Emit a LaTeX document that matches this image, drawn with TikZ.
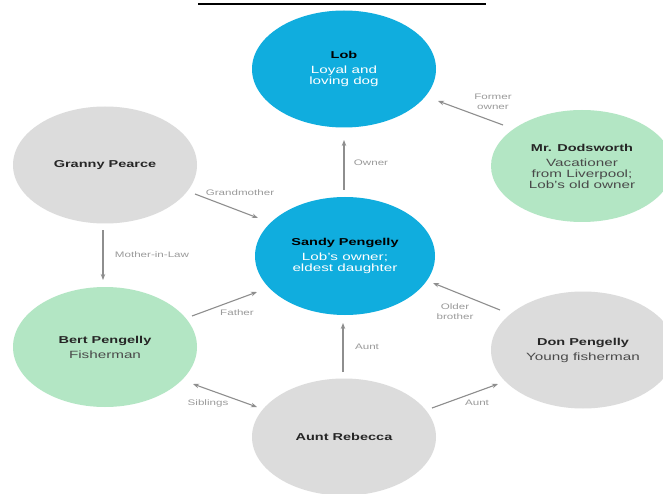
\documentclass[tikz,border=0pt]{standalone}
\usepackage{fontspec}
\setmainfont{Liberation Sans}[FakeStretch=1.45]
\usetikzlibrary{shapes.geometric,arrows.meta}
\definecolor{cblue}{HTML}{10ADDE}
\definecolor{cgreen}{HTML}{B3E6C4}
\definecolor{cgray}{HTML}{DCDCDC}
\definecolor{carrow}{HTML}{8E8E8E}
\definecolor{clabel}{HTML}{9A9A9A}
\definecolor{cname}{HTML}{262626}
\definecolor{cdesc}{HTML}{4A4A4A}
\newcommand{\nm}[1]{{\bfseries\fontsize{10}{11}\selectfont #1}}
\tikzset{
  bub/.style={ellipse, draw=none, minimum width=184pt, minimum height=117pt, inner sep=0pt, align=center,
    font=\fontsize{10.5}{11}\selectfont},
  lbl/.style={text=clabel, align=center, font=\fontsize{8}{10}\selectfont, inner sep=0pt},
  arr/.style={draw=carrow, line width=1.1pt, -{Stealth[length=6pt,width=4.5pt]}},
  darr/.style={draw=carrow, line width=1.1pt, {Stealth[length=6pt,width=4.5pt]}-{Stealth[length=6pt,width=4.5pt]}}
}
\begin{document}
\begin{tikzpicture}[x=1pt,y=-1pt]
\clip (0,0) rectangle (663,494);
\fill[white] (0,0) rectangle (663,494);
\draw[line width=2.6pt, black] (198,4) -- (486,4);

\node[bub, fill=cblue] (lob) at (344,69) {\textcolor{black}{\nm{Lob}}\\[4pt]\textcolor{white}{Loyal and}\\\textcolor{white}{loving dog}};
\node[bub, fill=cgreen, minimum width=182pt, minimum height=112pt] (dods) at (582,166) {\textcolor{cname}{\nm{Mr. Dodsworth}}\\[4pt]\textcolor{cdesc}{Vacationer}\\\textcolor{cdesc}{from Liverpool;}\\\textcolor{cdesc}{Lob's old owner}};
\node[bub, fill=cgray] (granny) at (105,165) {\textcolor{cname}{\nm{Granny Pearce}}};
\node[bub, fill=cblue, minimum width=180pt, minimum height=118pt] (sandy) at (345,256) {\textcolor{black}{\nm{Sandy Pengelly}}\\[4pt]\textcolor{white}{Lob's owner;}\\\textcolor{white}{eldest daughter}};
\node[bub, fill=cgreen, minimum height=120pt] (bert) at (105,347) {\textcolor{cname}{\nm{Bert Pengelly}}\\[4pt]\textcolor{cdesc}{Fisherman}};
\node[bub, fill=cgray] (don) at (583,350) {\textcolor{cname}{\nm{Don Pengelly}}\\[4pt]\textcolor{cdesc}{Young fisherman}};
\node[bub, fill=cgray] (reb) at (344,437) {\textcolor{cname}{\nm{Aunt Rebecca}}};

\draw[arr] ([shift={(-1,-66)}]sandy.center) -- ([shift={(0,71)}]lob.center);
\draw[arr] ([shift={(-79,-41)}]dods.center) -- ([shift={(94,32)}]lob.center);
\draw[arr] ([shift={(90,29)}]granny.center) -- ([shift={(-87,-38)}]sandy.center);
\draw[arr] ([shift={(-2,65)}]granny.center) -- ([shift={(-2,-67)}]bert.center);
\draw[arr] ([shift={(87,-31)}]bert.center) -- ([shift={(-88,36)}]sandy.center);
\draw[darr] ([shift={(88,37)}]bert.center) -- ([shift={(-87,-30)}]reb.center);
\draw[arr] ([shift={(-1,-65)}]reb.center) -- ([shift={(-2,67)}]sandy.center);
\draw[arr] ([shift={(88,-29)}]reb.center) -- ([shift={(-85,34)}]don.center);
\draw[arr] ([shift={(-83,-40)}]don.center) -- ([shift={(88,27)}]sandy.center);

\node[lbl] (l1) at (371,163) {Owner};
\node[lbl] (l2) at (493,102) {Former\\owner};
\node[lbl] (l3) at (240,193) {Grandmother};
\node[lbl] (l4) at (152,255) {Mother-in-Law};
\node[lbl] (l5) at (237,313) {Father};
\node[lbl] (l6) at (208,403) {Siblings};
\node[lbl] (l7) at (367,347) {Aunt};
\node[lbl] (l8) at (477,403) {Aunt};
\node[lbl] (l9) at (455,312) {Older\\brother};
\end{tikzpicture}
\end{document}
